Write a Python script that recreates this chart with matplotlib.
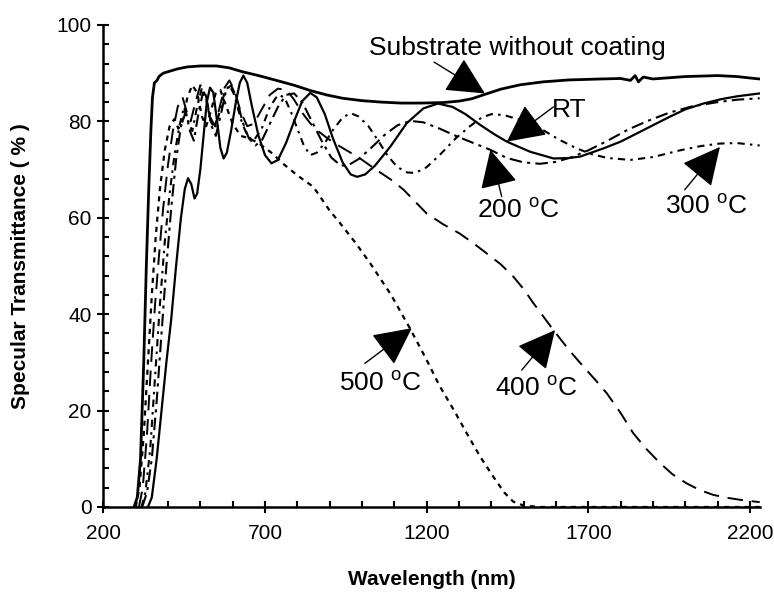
import matplotlib
matplotlib.use("Agg")
import matplotlib.pyplot as plt
from matplotlib.ticker import MultipleLocator

plt.rcParams['font.family'] = ['Liberation Sans', 'DejaVu Sans']
plt.rcParams['mathtext.fontset'] = 'custom'
plt.rcParams['mathtext.rm'] = 'Liberation Sans'

# ── Data (wavelength nm, transmittance %) ─────────────────────────────────────

sub_wl = [295, 305, 315, 325, 333, 340, 347, 352, 358, 366, 372, 385, 400, 430, 460,
          500, 550, 590, 630, 680, 730, 790, 840, 890, 940, 1000, 1060, 1120, 1180,
          1250, 1300, 1340, 1380, 1430, 1490, 1560, 1640, 1740, 1800, 1830, 1845,
          1855, 1870, 1900, 2000, 2100, 2160, 2200, 2230]
sub_t = [0, 2, 10, 30, 50, 65, 78, 85, 88, 88.5, 89.3, 90, 90.3, 90.9, 91.3,
         91.5, 91.5, 91.1, 90.3, 89.5, 88.6, 87.5, 86.4, 85.5, 84.8, 84.3, 84.0, 83.8, 83.8,
         83.9, 84.2, 84.7, 85.6, 86.7, 87.6, 88.2, 88.6, 88.8, 88.9, 88.5, 89.5,
         88.2, 89.2, 88.8, 89.3, 89.5, 89.3, 89.0, 88.8]

rt_wl = [338, 350, 365, 380, 395, 410, 425, 440, 452, 462, 472, 482, 490, 500, 510,
         520, 530, 540, 552, 562, 572, 582, 595, 610, 622, 633, 645, 660, 680, 700,
         720, 740, 765, 790, 815, 840, 860, 885, 910, 940, 965, 985, 1010, 1040, 1087,
         1138, 1190, 1235, 1280, 1320, 1365, 1410, 1448, 1520, 1593, 1640, 1675, 1747,
         1800, 1850, 1900, 1953, 2000, 2056, 2110, 2160, 2230]
rt_t = [0, 2, 10, 20, 30, 39, 50, 60, 66, 68.2, 67, 64, 65, 70, 77,
        84, 87, 86, 80, 74.5, 72.3, 73.5, 78, 84, 88, 89.5, 88, 83, 77, 73,
        71.3, 72, 75.5, 80, 84.2, 85.9, 85, 81.5, 76.5, 71.5, 69, 68.5, 69, 70.8, 74.7,
        79.6, 82.7, 83.7, 83, 81.5, 79.3, 77.3, 75.8, 73.7, 72.3, 72.4, 72.7, 74.4,
        75.8, 77.5, 79.2, 81, 82.5, 83.7, 84.6, 85.2, 85.8]

t200_wl = [320, 335, 350, 365, 380, 395, 410, 425, 440, 455, 468, 480, 495, 508, 520,
           535, 548, 562, 580, 595, 612, 630, 650, 670, 690, 715, 740, 765, 790, 815,
           845, 875, 905, 935, 960, 990, 1030, 1070, 1110, 1150, 1190, 1240, 1290, 1345,
           1397, 1448, 1500, 1550, 1600, 1650, 1700, 1760, 1820, 1880, 1950, 2020, 2100,
           2160, 2230]
t200_t = [0, 3, 10, 22, 36, 50, 62, 72, 79, 82, 78, 76, 82, 86, 84,
          79, 77, 81, 86.5, 87.5, 85, 80, 76.5, 75, 76, 79.5, 83, 85.5, 85.8, 84,
          80, 76, 72.5, 70.8, 71, 72.2, 74.6, 77.2, 79.2, 80.1, 79.8, 78.5, 77, 75.5,
          74.1, 72.4, 71.5, 71.2, 71.6, 72.6, 74, 76, 78.2, 80, 81.8, 83.1, 84,
          84.5, 84.8]

t300_wl = [318, 330, 345, 360, 375, 390, 405, 420, 435, 450, 462, 475, 490, 505, 518,
           532, 545, 560, 575, 590, 605, 625, 645, 665, 690, 715, 740, 760, 780, 800,
           820, 840, 860, 885, 910, 940, 965, 990, 1020, 1050, 1080, 1110, 1140, 1165,
           1200, 1240, 1290, 1334, 1370, 1400, 1440, 1509, 1560, 1610, 1664, 1710, 1760,
           1830, 1900, 1984, 2050, 2107, 2160, 2230]
t300_t = [0, 3, 12, 27, 42, 55, 65, 73, 79, 83, 80, 78, 83, 87, 85,
          80, 78.5, 82, 86, 87.5, 85.5, 80.5, 77, 76, 78.5, 83, 85.5, 85, 82, 78.5,
          75, 73, 73.5, 75.5, 78.2, 80.8, 81.7, 81, 79, 76, 72.8, 70.5, 69.4, 69.3,
          70.5, 73, 76.5, 79, 80.8, 81.5, 81.3, 79.9, 78.2, 76.2, 74.4, 73.2, 72.4,
          72, 72.6, 74, 74.9, 75.4, 75.5, 75.0]

t400_wl = [310, 322, 335, 348, 360, 372, 385, 400, 415, 430, 445, 458, 470, 485, 500,
           515, 530, 545, 560, 575, 590, 605, 625, 645, 665, 690, 715, 740, 767, 790,
           815, 840, 860, 895, 932, 990, 1045, 1090, 1129, 1165, 1200, 1250, 1303, 1345,
           1386, 1430, 1468, 1500, 1530, 1560, 1592, 1640, 1685, 1720, 1757, 1800, 1839,
           1880, 1922, 1960, 2004, 2045, 2087, 2130, 2169, 2230]
t400_t = [0, 4, 15, 30, 42, 52, 62, 71, 78, 83, 85, 82, 80, 84, 87.5,
          86, 81, 79, 83, 87, 88.5, 86.5, 82, 79, 79.5, 82.5, 85.5, 86.8, 86.5, 84.5,
          81.8, 79.6, 78.2, 76.4, 74.8, 72.5, 69.9, 67.9, 65.8, 63.3, 60.9, 58.7, 56.7, 54.7,
          52.6, 50.3, 47.8, 45.2, 42.3, 39.6, 36.7, 32.6, 29.1, 26.5, 23.6, 19.5, 15.3,
          12, 9.1, 6.8, 4.9, 3.5, 2.5, 1.9, 1.5, 1.0]

t500_wl = [300, 312, 325, 338, 350, 362, 375, 390, 405, 420, 432, 445, 460, 475, 490,
           505, 518, 532, 548, 562, 578, 600, 625, 650, 680, 720, 760, 800, 850, 900,
           932, 980, 1025, 1090, 1148, 1200, 1241, 1285, 1324, 1365, 1406, 1440, 1468,
           1500, 1550, 1700, 2230]
t500_t = [0, 4, 15, 30, 44, 56, 66, 74, 79, 80.5, 78.5, 80, 85, 87.5, 86,
          81, 79, 82, 86, 86.5, 83.5, 79.5, 77, 76.5, 75.5, 73.5, 71, 68.8, 66.4, 61.5,
          58.9, 54.8, 50.6, 44, 37.1, 30.5, 25.0, 20, 15.3, 10.5, 6.3, 3, 1.1,
          0.3, 0, 0, 0]

# annotation labels: text, label position, arrow tail, arrow tip
labels = ["Substrate without coating", "RT", r"200 $^{\mathrm{o}}$C",
          r"300 $^{\mathrm{o}}$C", r"400 $^{\mathrm{o}}$C", r"500 $^{\mathrm{o}}$C"]
label_xy = [(1480, 95.2), (1587, 82.4), (1483, 61.6), (2066, 62.3), (1540, 24.6), (1056, 25.7)]
arrow_tail = [(1223, 92.3), (1592, 83.0), (1432, 64.4), (1998, 65.8), (1494, 28.4), (1009, 29.8)]
arrow_tip = [(1380, 85.8), (1448, 75.8), (1397, 74.1), (2107, 74.7), (1597, 36.7), (1154, 37.1)]

# ── Plot ──────────────────────────────────────────────────────────────────────

fig = plt.figure(figsize=(7.74, 5.92), dpi=100)
ax = fig.add_axes([0.1335, 0.1436, 0.848, 0.8142])

ax.plot(sub_wl, sub_t, color="k", lw=2.0, solid_joinstyle="round")
ax.plot(rt_wl, rt_t, color="k", lw=1.6, solid_joinstyle="round")
ax.plot(t200_wl, t200_t, color="k", lw=1.5, dashes=(6, 2.5, 1.5, 2.5))
ax.plot(t300_wl, t300_t, color="k", lw=1.5, dashes=(3.5, 2.5, 1.2, 2.5))
ax.plot(t400_wl, t400_t, color="k", lw=1.4, dashes=(8, 4.5))
ax.plot(t500_wl, t500_t, color="k", lw=1.6, dashes=(2.3, 2.3))

for i, text in enumerate(labels):
    ha = "left" if text == "RT" else "center"
    ax.text(label_xy[i][0], label_xy[i][1], text, fontsize=19, ha=ha, va="center")
    ax.annotate("", xy=arrow_tip[i], xytext=arrow_tail[i],
                arrowprops=dict(arrowstyle="-|>,head_length=0.6,head_width=0.3",
                                mutation_scale=40, lw=1.0, color="k",
                                shrinkA=0, shrinkB=0))

ax.set_xlim(200, 2230)
ax.set_ylim(0, 100)
ax.set_xticks([200, 700, 1200, 1700, 2200])
ax.set_yticks([0, 20, 40, 60, 80, 100])
ax.xaxis.set_minor_locator(MultipleLocator(100))
ax.yaxis.set_minor_locator(MultipleLocator(4))

for side in ["top", "right"]:
    ax.spines[side].set_visible(False)
for side in ["left", "bottom"]:
    ax.spines[side].set_linewidth(1.8)

ax.tick_params(which="major", direction="inout", length=9, width=1.5,
               labelsize=15, pad=4)
ax.tick_params(axis="x", which="major", pad=8)
ax.tick_params(which="minor", direction="in", length=4.5, width=1.5)

ax.set_xlabel("Wavelength (nm)", fontsize=15, fontweight="bold", labelpad=19)
ax.set_ylabel("Specular Transmittance ( % )", fontsize=15, fontweight="bold", labelpad=19)

fig.savefig("out.png", dpi=100)
